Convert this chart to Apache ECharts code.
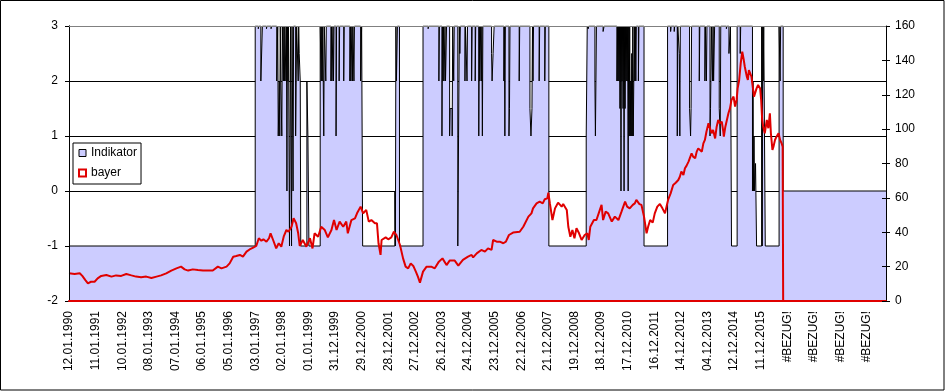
<!DOCTYPE html>
<html><head><meta charset="utf-8">
<script src="https://cdn.jsdelivr.net/npm/echarts@6/dist/echarts.min.js"></script>
<style>html,body{margin:0;padding:0;background:#fff}#c{width:948px;height:392px}</style>
</head><body><div id="c"></div>
<script>
// Category tick labels (one every 52 weekly points)
const tickLabels = ['12.01.1990','11.01.1991','10.01.1992','08.01.1993','07.01.1994','06.01.1995','05.01.1996','03.01.1997','02.01.1998','01.01.1999','31.12.1999','29.12.2000','28.12.2001','27.12.2002','26.12.2003','24.12.2004','23.12.2005','22.12.2006','21.12.2007','19.12.2008','18.12.2009','17.12.2010','16.12.2011','14.12.2012','04.12.2013','12.12.2014','11.12.2015','#BEZUG!','#BEZUG!','#BEZUG!','#BEZUG!'];
const WEEKS_PER_LABEL = 52;
const LAST_WEEK = 1597;

// bayer price: [week index, value] (right axis)
const bayer = [[0,16.1],[11,15.7],[21,16.1],[26,14.6],[32,12.2],[37,10.3],[43,11.2],[50,11.2],[56,13.2],[63,14.6],[73,15.1],[83,14.2],[92,14.9],[102,14.6],[112,15.7],[122,14.9],[131,14.2],[141,13.8],[151,14.2],[161,13.4],[171,14.2],[180,14.9],[190,16.1],[200,17.7],[210,19],[219,20],[226,18.4],[233,17.7],[242,18.4],[252,18],[262,17.7],[272,17.7],[281,17.7],[291,20],[298,19],[308,20],[314,21.9],[321,25.8],[327,26.2],
[334,26.8],[340,25.8],[347,28.7],[353,30],[360,31],[366,32],[371,36.5],[376,35.1],[380,35.9],[386,34.5],[391,36.5],[394,39.4],[399,35.5],[405,30.6],[410,33.6],[415,31.6],[420,37.8],[425,41.3],[429,40.3],[435,43.2],[439,48.1],[441,49.1],[444,45.2],[448,39.4],
[451,32],[457,35.5],[464,31.6],[471,36.5],[476,30.6],[480,39.4],[487,37.4],[493,43.2],[500,41.3],[506,37],[513,41.3],[518,47.1],[523,41.3],[529,46.2],[536,43.2],[542,46.2],[545,39.4],[552,47.1],[559,48.1],[563,51],[570,54.9],[575,51],[581,53],[586,46.2],[591,47.1],[598,45.2],[602,45.2],[605,33.6],[609,26.8],[611,35.5],[614,36.5],[619,37],[624,35.9],[630,37],[635,40.3],[640,38.4],[647,32.6],[650,31.6],[653,24.8],[658,20],[663,19],[668,21.9],[673,20.4],[678,17.1],[682,14.2],[686,10.7],[692,17.1],[699,20],[708,20],[715,19],[723,22.9],[730,24.8],[738,20.9],[744,23.5],[754,23.5],[761,20.6],[770,23.9],[780,25.8],[787,26.8],[790,25.4],[797,27.7],[806,29.7],[813,28.7],[819,30.6],[826,29.7],[829,35.5],[836,34.5],[842,34.5],[849,33.6],[854,34.5],[860,38.4],[868,39.8],[881,40.3],[888,43.2],[891,44.2],[898,49.1],[904,51],[907,53.9],[914,56.8],[920,57.8],[926,56.8],[930,59.2],[935,59.7],[937,63],[940,56.8],[945,47.1],[950,53.9],[956,57.2],[963,54.9],[966,56.4],[973,53],[976,43.2],[980,37.4],[984,41.3],[988,36.5],[992,42.3],[997,39.4],[1002,35.5],[1008,38.4],[1013,39.4],[1016,35.5],[1019,43.2],[1026,47.1],[1031,47.1],[1038,53.3],[1041,55.9],[1044,47.1],[1049,52],[1054,51],[1061,46.2],[1067,49.1],[1074,47.1],[1080,52],[1087,57.8],[1091,54.9],[1096,53.9],[1102,55.9],[1106,56.8],[1109,58.8],[1115,56.4],[1119,55.9],[1124,49.1],[1129,39.4],[1132,43.2],[1136,47.1],[1141,45.6],[1145,51],[1150,54.9],[1155,56.4],[1160,53.9],[1165,51],[1168,54.9],[1171,58.8],[1176,62.6],[1181,67.5],[1186,68.8],[1191,70.4],[1194,72.3],[1197,75.3],[1201,73.3],[1204,77.2],[1207,78.6],[1211,81.1],[1214,80.1],[1217,85.9],[1220,84],[1224,83],[1227,86.9],[1230,88.8],[1233,87.9],[1237,86.9],[1240,91.7],[1243,93.7],[1246,98.5],[1250,103.4],[1253,100.5],[1256,97.6],[1259,99.5],[1263,94.6],[1266,101.4],[1269,105.3],[1272,103.4],[1276,104.3],[1279,98.5],[1280,95.6],[1283,101.4],[1286,105.3],[1289,109.2],[1292,112.1],[1295,117],[1299,118.9],[1302,113.1],[1305,117],[1307,123.7],[1310,128.6],[1313,138.3],[1316,145.1],[1319,140.2],[1321,136.3],[1325,130.5],[1327,128.6],[1329,134.4],[1331,135.4],[1334,130.5],[1336,130.5],[1339,118.9],[1341,117.9],[1344,123.7],[1347,125.7],[1351,123.7],[1353,116.9],[1355,105.3],[1357,101.4],[1360,97.6],[1364,105.3],[1367,100.5],[1370,109.2],[1372,97.6],[1375,87.9],[1377,89.8],[1380,93.7],[1383,95.6],[1387,97.6],[1390,93.7],[1393,91.7],[1395,89.8],[1396,0],[1597,0]];

// Indikator: [week index where value starts, value] (left axis)
const indikator = [[0,-1],[364,3],[370,2.95],[371,3],[375,2],[378,3],[386,2.95],[387,3],[395,2.95],[396,3],
[406,2],[408,3],[409,1],[411,2],[412,1],[413,3],[414,2],[416,1],[417,3],[419,2],[420,3],[421,2],[422,3],[424,2],[425,3],
[426,0],[427,3],[428,2],[429,3],[431,-1],[432,1],[433,3],[435,-1],[436,3],[438,0],[439,3],[443,1],[445,3],[448,2],[449,3],
[450,2.5],[452,2],[453,-1],[465,2],[467,1],[469,-1],[491,3],
[493,2],[494,3],[495,2],[496,3],[498,1],[499,3],[502,2],[503,3],[512,2],[513,3],[514,2],[516,3],[517,2],[518,3],
[522,1],[523,3],[528,2],[529,3],[537,2],[538,3],[549,2],[550,3],[551,2],[553,3],[554,2],[555,3],[557,2],[558,3],
[570,2],[572,3],[574,-1],[637,0],[638,-1],[639,3],[640,2],[642,3],[646,-1],[692,3],[702,2.95],[703,3],
[723,2],[724,3],[729,1],[730,3],[731,2],[732,3],[733,2],[735,3],[736,2],[738,3],[744,1],[745,1.5],[749,1],[750,3],[752,2],[753,3],
[760,-1],[763,3],[764,2.5],[765,3],[774,2],[775,3],[778,2],[779,3],[787,2],[788,3],[794,2],[795,3],
[801,1],[802,3],[803,2],[804,3],[806,2],[807,3],[808,1],[809,3],[826,2.5],[827,2],[829,2.5],[831,3],
[850,2],[851,3],[852,1],[853,3],[860,1],[861,1.5],[862,3],[880,2],[881,3],[901,1.5],[903,1],[905,1.5],[906,3],[907,2],[908,3],
[919,2],[920,3],[930,2],[931,3],[938,-1],[1011,1],[1013,3],[1015,2.95],[1016,3],
[1028,2],[1029,1],[1030,2],[1031,3],[1044,2.9],[1046,3],
[1071,2],[1072,3],[1073,2],[1074,3],[1075,2],[1076,3],[1077,1.5],[1078,3],[1079,0],[1080,3],[1081,2],[1082,3],[1083,1.5],[1084,3],[1085,0],[1086,3],[1087,1.5],[1088,3],[1089,2],[1090,3],[1091,2],[1092,3],
[1093,0],[1094,3],[1095,1],[1096,3],[1097,1],[1098,2],[1099,1],[1100,2.5],[1101,1],[1102,3],[1103,1],[1104,2],[1105,3],[1106,2],[1107,3],[1108,2],[1109,3],[1113,2],[1114,3],
[1124,-1],[1170,3],[1176,2.9],[1177,3],[1183,2.9],[1184,3],[1189,1],[1190,3],[1193,2.5],[1194,1],[1195,3],
[1213,1.5],[1215,1],[1216,1.5],[1217,3],[1232,2],[1233,3],[1243,2],[1244,3],[1246,2],[1247,3],
[1253,1],[1254,1.5],[1256,3],[1258,2],[1259,3],[1260,2],[1262,3],[1271,1.5],[1273,1],[1274,3],[1285,2.95],[1286,3],
[1290,2.5],[1293,3],[1295,-1],[1306,3],[1312,2.5],[1313,3],
[1336,0],[1337,2],[1338,0],[1339,1],[1340,0],[1342,0.5],[1344,-1],
[1354,3],[1355,-1],[1356,3],[1357,2],[1358,3],[1361,-1],[1388,3],[1390,2],[1391,3],[1396,0],[1597,0]];

const FONT = "'Liberation Sans', Arial, sans-serif";
const RED = '#e00000';
const LAV = '#ccccff';
const G = {left: 69, right: 62, top: 26, bottom: 91};
const W = 948, H = 392;

const chart = echarts.init(document.getElementById('c'), null, {renderer: 'canvas'});
chart.setOption({
  animation: false,
  backgroundColor: '#fff',
  textStyle: {fontFamily: FONT, color: '#000', fontSize: 12},
  grid: {left: G.left, right: G.right, top: G.top, bottom: G.bottom, containLabel: false},
  legend: {
    orient: 'vertical', left: 73, top: 143, padding: [4, 4, 5, 5], itemGap: 8,
    itemWidth: 7, itemHeight: 7, selectedMode: false,
    borderColor: '#000', borderWidth: 1, backgroundColor: '#fff',
    textStyle: {fontFamily: FONT, fontSize: 12, color: '#000'},
    data: [
      {name: 'Indikator', icon: 'rect', itemStyle: {color: LAV, borderColor: '#000', borderWidth: 1}},
      {name: 'bayer', icon: 'rect', itemStyle: {color: '#fff', borderColor: RED, borderWidth: 2}}
    ]
  },
  xAxis: {
    type: 'value', min: 0, max: LAST_WEEK, interval: WEEKS_PER_LABEL, z: 10,
    axisLine: {show: true, onZero: false, lineStyle: {color: RED, width: 2}},
    axisTick: {show: false}, splitLine: {show: false},
    axisLabel: {rotate: 90, margin: 10, fontSize: 12, color: '#000', fontFamily: FONT, hideOverlap: false,
      formatter: v => (v % WEEKS_PER_LABEL === 0 && tickLabels[v / WEEKS_PER_LABEL] !== undefined) ? tickLabels[v / WEEKS_PER_LABEL] : ''}
  },
  yAxis: [
    {type: 'value', position: 'left', min: -2, max: 3, interval: 1,
      axisLine: {show: true, onZero: false, lineStyle: {color: '#000'}},
      axisTick: {show: true, length: 4, lineStyle: {color: '#000'}},
      axisLabel: {margin: 11, fontSize: 12, color: '#000', fontFamily: FONT},
      splitLine: {show: true, lineStyle: {color: '#000', width: 1}}},
    {type: 'value', position: 'right', min: 0, max: 160, interval: 20, z: 10,
      axisLine: {show: true, onZero: false, lineStyle: {color: '#000'}},
      axisTick: {show: true, length: 4, lineStyle: {color: '#000'}},
      axisLabel: {margin: 9, fontSize: 12, color: '#000', fontFamily: FONT},
      splitLine: {show: false}},
    {type: 'value', position: 'right', min: 0, max: 160, interval: 20, z: 10,
      axisLine: {show: false, onZero: false},
      axisTick: {show: true, inside: true, length: 4, lineStyle: {color: '#000'}},
      axisLabel: {show: false}, splitLine: {show: false}},
    {type: 'value', position: 'left', min: -2, max: 3, interval: 1, z: 10,
      axisLine: {show: true, onZero: false, lineStyle: {color: '#000'}},
      axisTick: {show: false}, axisLabel: {show: false}, splitLine: {show: false}}
  ],
  series: [
    {name: 'Indikator', type: 'line', yAxisIndex: 0, step: 'end', data: indikator,
      symbol: 'none', showSymbol: false, silent: true,
      lineStyle: {color: '#000', width: 1},
      itemStyle: {color: LAV},
      areaStyle: {color: LAV, opacity: 1, origin: 'start'}, z: 2},
    {name: 'bayer', type: 'line', yAxisIndex: 1, data: bayer,
      symbol: 'none', showSymbol: false, silent: true,
      lineStyle: {color: RED, width: 2}, itemStyle: {color: RED}, z: 3}
  ],
  graphic: [
    {type: 'line', z: 100, silent: true,
      shape: {x1: G.left, y1: G.top + 0.5, x2: W - G.right, y2: G.top + 0.5},
      style: {stroke: '#808080', lineWidth: 1}},
    {type: 'rect', z: 100, silent: true,
      shape: {x: 0.5, y: 0.5, width: 943.5, height: 389.5},
      style: {fill: 'none', stroke: '#000', lineWidth: 1}}
  ]
});
</script></body></html>
